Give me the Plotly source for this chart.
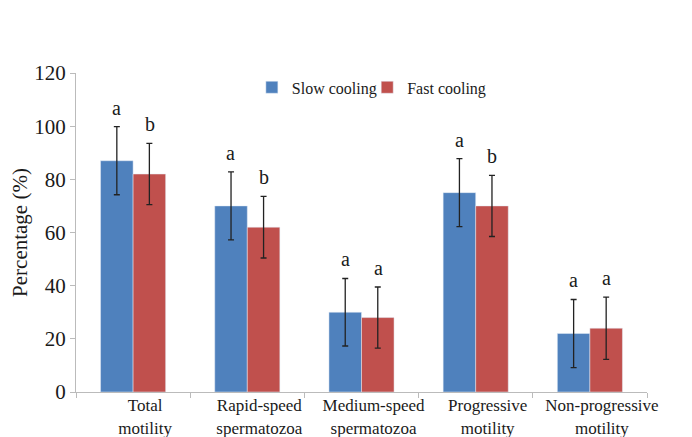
import plotly.graph_objects as go

categories = ["Total<br>motility", "Rapid-speed<br>spermatozoa", "Medium-speed<br>spermatozoa",
              "Progressive<br>motility", "Non-progressive<br>motility"]
slow_values = [87, 70, 30, 75, 22]
slow_err = [12.8, 12.8, 12.7, 12.8, 12.8]
fast_values = [82, 62, 28, 70, 24]
fast_err = [11.5, 11.6, 11.5, 11.5, 11.7]
slow_letters = ["a", "a", "a", "a", "a"]
fast_letters = ["b", "b", "a", "b", "a"]
y_ticks = [0, 20, 40, 60, 80, 100, 120]

BLUE = "#4F81BD"
RED = "#C0504D"
FONT = "Liberation Serif"
INK = "#1a1a1a"

fig = go.Figure()
fig.add_trace(go.Bar(
    name="Slow cooling", x=categories, y=slow_values, marker_color=BLUE, legend="legend",
    error_y=dict(type="data", array=slow_err, color="#222222", thickness=1.3, width=3),
))
fig.add_trace(go.Bar(
    name="Fast cooling", x=categories, y=fast_values, marker_color=RED, legend="legend2",
    error_y=dict(type="data", array=fast_err, color="#222222", thickness=1.3, width=3),
))

annotations = []
for cat, v, e, t in zip(categories, slow_values, slow_err, slow_letters):
    annotations.append(dict(x=cat, y=v + e, text=t, xref="x", yref="y", showarrow=False,
                            xshift=-16.5, yanchor="bottom", yshift=6,
                            font=dict(family=FONT, size=20, color=INK)))
for cat, v, e, t in zip(categories, fast_values, fast_err, fast_letters):
    annotations.append(dict(x=cat, y=v + e, text=t, xref="x", yref="y", showarrow=False,
                            xshift=16.5, yanchor="bottom", yshift=6,
                            font=dict(family=FONT, size=20, color=INK)))

legend_common = dict(orientation="h", y=0.955, xanchor="left", yanchor="middle",
                     font=dict(family=FONT, size=16, color=INK), bgcolor="rgba(0,0,0,0)",
                     itemwidth=30)

fig.update_layout(
    width=684, height=429,
    margin=dict(l=68, r=45, t=65, b=45),
    paper_bgcolor="white", plot_bgcolor="white",
    barmode="group", bargap=0.43, bargroupgap=0,
    font=dict(family=FONT, size=16, color=INK),
    annotations=annotations,
    legend=dict(x=0.308, **legend_common),
    legend2=dict(x=0.51, **legend_common),
    showlegend=True,
)
fig.update_yaxes(
    range=[0, 120], tickvals=y_ticks, showgrid=False, zeroline=False, automargin=False,
    showline=True, linecolor="#BBBBBB", linewidth=1,
    ticks="outside", ticklen=5, tickcolor="#BBBBBB",
    tickfont=dict(family=FONT, size=21, color=INK),
    title=dict(text="Percentage (%)", font=dict(family=FONT, size=21, color=INK), standoff=7),
)
fig.update_xaxes(
    showgrid=False, showline=True, linecolor="#BBBBBB", linewidth=1, automargin=False,
    ticks="outside", ticklen=5, tickcolor="#BBBBBB", tickson="boundaries",
    ticklabelshift=12, tickangle=0, ticklabelstandoff=-2,
    tickfont=dict(family=FONT, size=17, color=INK),
)

fig.write_html("out.html")
